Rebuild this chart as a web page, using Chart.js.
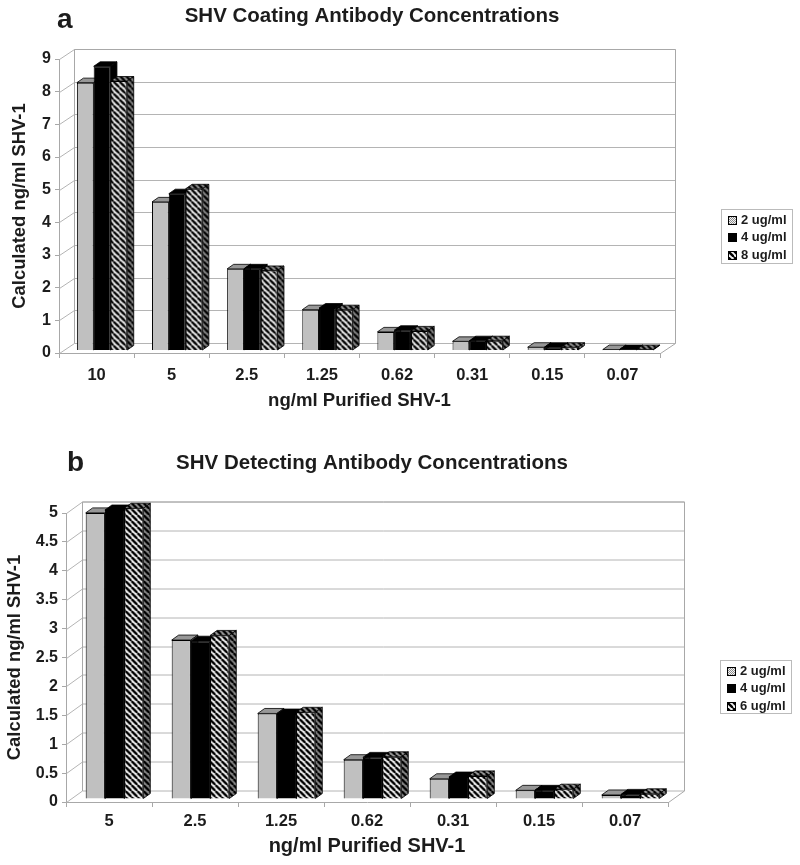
<!DOCTYPE html>
<html>
<head>
<meta charset="utf-8">
<title>SHV Antibody Concentrations</title>
<script src="https://cdn.jsdelivr.net/npm/chart.js@4/dist/chart.umd.js"></script>
<style>
  html, body { margin: 0; padding: 0; background: #fff; }
  body { position: relative; width: 800px; height: 865px; overflow: hidden; font-family: "Liberation Sans", Arial, sans-serif; color: #1c1c1c; }
  canvas { position: absolute; left: 0; top: 0; }
  .wrap { position: absolute; left: 0; width: 744px; }
  .panel { position: absolute; font-weight: bold; font-size: 28px; line-height: 30px; }
  .legend { position: absolute; border: 1px solid #bbb; box-sizing: border-box; width: 72px; padding: 0.5px 0 0 6px; font-weight: bold; font-size: 13px; line-height: 17.5px; }
  .legend div { white-space: nowrap; }
  .legend canvas { position: static; vertical-align: -1px; margin-right: 4px; }
</style>
</head>
<body>
<div class="wrap" style="top:0;height:430px"><canvas id="chartA"></canvas></div>
<div class="wrap" style="top:440px;height:425px"><canvas id="chartB"></canvas></div>
<div class="panel" style="left:57px;top:4px">a</div>
<div class="panel" style="left:67px;top:447px">b</div>
<div class="legend" id="legendA" style="left:721px;top:209px;height:55px"></div>
<div class="legend" id="legendB" style="left:720px;top:660px;height:54px"></div>
<script>
  const categoriesA = ['10', '5', '2.5', '1.25', '0.62', '0.31', '0.15', '0.07'];
  const seriesA = ['2 ug/ml', '4 ug/ml', '8 ug/ml'];
  const a2 = [8.2, 4.55, 2.5, 1.25, 0.57, 0.28, 0.1, 0.03];
  const a4 = [8.7, 4.8, 2.5, 1.3, 0.62, 0.3, 0.1, 0.03];
  const a8 = [8.25, 4.95, 2.45, 1.25, 0.6, 0.3, 0.1, 0.03];

  const categoriesB = ['5', '2.5', '1.25', '0.62', '0.31', '0.15', '0.07'];
  const seriesB = ['2 ug/ml', '4 ug/ml', '6 ug/ml'];
  const b2 = [4.95, 2.75, 1.48, 0.68, 0.35, 0.15, 0.07];
  const b4 = [5, 2.73, 1.47, 0.72, 0.38, 0.15, 0.08];
  const b6 = [5.03, 2.83, 1.5, 0.73, 0.4, 0.17, 0.09];

  const TEXT = '#1c1c1c';
  const WALL = '#a8a8a8';
  const GRID = '#b4b4b4';
  const FONT = '"Liberation Sans", Arial, sans-serif';

  function dotted(bg, fg) {
    const c = document.createElement('canvas');
    c.width = c.height = 2;
    const x = c.getContext('2d');
    x.fillStyle = bg; x.fillRect(0, 0, 2, 2);
    x.fillStyle = fg; x.fillRect(0, 0, 1, 1); x.fillRect(1, 1, 1, 1);
    return c;
  }

  function stripes(bg, fg) {
    const c = document.createElement('canvas');
    c.width = c.height = 6;
    const x = c.getContext('2d');
    x.fillStyle = bg; x.fillRect(0, 0, 6, 6);
    x.strokeStyle = fg; x.lineWidth = 2.4;
    [-6, 0, 6].forEach((o) => {
      x.beginPath(); x.moveTo(o, 0); x.lineTo(o + 6, 6); x.stroke();
    });
    return c;
  }

  const ctx0 = document.createElement('canvas').getContext('2d');
  const faces = [
    { front: ctx0.createPattern(dotted('#f4f4f4', '#8c8c8c'), 'repeat'), side: ctx0.createPattern(dotted('#9a9a9a', '#555'), 'repeat'), top: ctx0.createPattern(dotted('#b8b8b8', '#777'), 'repeat') },
    { front: '#000', side: '#000', top: '#000' },
    { front: ctx0.createPattern(stripes('#f2f2f2', '#000'), 'repeat'), side: ctx0.createPattern(stripes('#888', '#000'), 'repeat'), top: ctx0.createPattern(stripes('#999', '#000'), 'repeat') },
  ];

  // walls, floor and the 3D faces of the bars; bars are shifted back into the box
  const box3d = {
    id: 'box3d',
    afterLayout(chart) {
      // centre the title on the whole canvas, not on what the padding leaves
      chart.titleBlock.left = 0;
      chart.titleBlock.right = chart.width;
    },
    beforeDatasetsDraw(chart, args, opts) {
      const { ctx, chartArea: area, scales: { y } } = chart;
      const { dx, dy } = opts;
      ctx.save();
      ctx.lineWidth = 1;
      ctx.strokeStyle = GRID;
      y.ticks.forEach((t) => {
        const py = Math.round(y.getPixelForValue(t.value)) + 0.5;
        ctx.beginPath();
        ctx.moveTo(area.left + 0.5, py);
        ctx.lineTo(area.left + dx + 0.5, py - dy);
        ctx.lineTo(area.right + dx + 0.5, py - dy);
        ctx.stroke();
      });
      ctx.strokeStyle = WALL;
      ctx.beginPath();
      ctx.moveTo(area.left + dx + 0.5, area.bottom - dy + 0.5);
      ctx.lineTo(area.left + dx + 0.5, area.top - dy + 0.5);
      ctx.lineTo(area.right + dx + 0.5, area.top - dy + 0.5);
      ctx.lineTo(area.right + dx + 0.5, area.bottom - dy + 0.5);
      ctx.lineTo(area.right + 0.5, area.bottom + 0.5);
      ctx.stroke();
      ctx.restore();
    },
    // the library paints the last dataset first; here the left bar must go first
    beforeDatasetDraw() {
      return false;
    },
    afterDatasetsDraw(chart, args, opts) {
      const { ctx } = chart;
      const { depthX: w, depthY: h } = opts;
      ctx.save();
      ctx.translate(opts.barDx, -opts.barDy);
      chart.data.datasets.forEach((ds, i) => {
        const meta = chart.getDatasetMeta(i);
        const face = faces[i];
        meta.data.forEach((bar) => bar.draw(ctx));
        ctx.save();
        ctx.strokeStyle = '#000';
        ctx.lineWidth = 0.8;
        meta.data.forEach((bar) => {
          const l = bar.x - bar.width / 2;
          const r = bar.x + bar.width / 2;
          const t = bar.y;
          const b = bar.base;
          ctx.fillStyle = face.top;
          ctx.beginPath();
          ctx.moveTo(l, t); ctx.lineTo(l + w, t - h); ctx.lineTo(r + w, t - h); ctx.lineTo(r, t);
          ctx.closePath(); ctx.fill(); ctx.stroke();
          ctx.fillStyle = face.side;
          ctx.beginPath();
          ctx.moveTo(r, t); ctx.lineTo(r + w, t - h); ctx.lineTo(r + w, b - h); ctx.lineTo(r, b);
          ctx.closePath(); ctx.fill(); ctx.stroke();
        });
        ctx.restore();
      });
      ctx.restore();
    },
  };

  function makeChart(id, cfg) {
    const datasets = cfg.series.map((label, i) => ({
      label,
      data: cfg.values[i],
      backgroundColor: faces[i].front,
      borderColor: '#000',
      borderWidth: 1,
      barPercentage: 1,
      categoryPercentage: 0.67,
      clip: false,
    }));
    return new Chart(document.getElementById(id), {
      type: 'bar',
      data: { labels: cfg.categories, datasets },
      plugins: [box3d],
      options: {
        responsive: true,
        maintainAspectRatio: false,
        animation: false,
        events: [],
        layout: { padding: { left: 0, top: 0, right: cfg.rightPad, bottom: 0 } },
        plugins: {
          legend: { display: false },
          tooltip: { enabled: false },
          title: {
            display: true,
            text: cfg.title,
            color: TEXT,
            font: { family: FONT, size: 20.5, weight: 'bold', lineHeight: 1.2 },
            padding: cfg.titlePad,
          },
          box3d: cfg.box,
        },
        scales: {
          x: {
            grid: { drawOnChartArea: false, color: WALL, tickLength: 5 },
            border: { color: WALL },
            ticks: { color: TEXT, font: { family: FONT, size: 16.5, weight: 'bold' }, padding: cfg.xTickPad, maxRotation: 0, autoSkip: false },
            title: { display: true, text: cfg.xTitle, color: TEXT, font: { family: FONT, size: cfg.xTitleSize, weight: 'bold' }, padding: { top: 0, bottom: cfg.xTitleBottom } },
            afterFit(scale) { scale.height = cfg.xHeight; },
          },
          y: {
            min: 0,
            max: cfg.yMax,
            grid: { drawOnChartArea: false, color: WALL, tickLength: 4 },
            border: { color: WALL },
            ticks: { stepSize: cfg.yStep, color: TEXT, font: { family: FONT, size: 16, weight: 'bold' }, padding: 4, callback: (v) => String(v) },
            title: { display: true, text: cfg.yTitle, color: TEXT, font: { family: FONT, size: 18.4, weight: 'bold' }, padding: { top: cfg.yTitleLeft, bottom: 0 } },
            afterFit(scale) { scale.width = cfg.left; },
          },
        },
      },
    });
  }

  function makeLegend(id, series) {
    const el = document.getElementById(id);
    series.forEach((name, i) => {
      const row = document.createElement('div');
      const sw = document.createElement('canvas');
      sw.width = sw.height = 9;
      const x = sw.getContext('2d');
      x.fillStyle = faces[i].front; x.fillRect(0, 0, 9, 9);
      x.strokeStyle = '#000'; x.strokeRect(0.5, 0.5, 8, 8);
      row.appendChild(sw);
      row.appendChild(document.createTextNode(name));
      el.appendChild(row);
    });
  }

  makeChart('chartA', {
    categories: categoriesA, series: seriesA, values: [a2, a4, a8],
    title: 'SHV Coating Antibody Concentrations',
    xTitle: 'ng/ml Purified SHV-1', yTitle: 'Calculated ng/ml SHV-1',
    yMax: 9, yStep: 1, left: 59, rightPad: 84, xHeight: 77,
    titlePad: { top: 4, bottom: 30.4 }, xTickPad: 8, xTitleSize: 18.6, xTitleBottom: 18, yTitleLeft: 9,
    box: { dx: 15, dy: 10, barDx: 5.5, barDy: 2.5, depthX: 6.5, depthY: 4.5 },
  });
  makeChart('chartB', {
    categories: categoriesB, series: seriesB, values: [b2, b4, b6],
    title: 'SHV Detecting Antibody Concentrations',
    xTitle: 'ng/ml Purified SHV-1', yTitle: 'Calculated ng/ml SHV-1',
    yMax: 5, yStep: 0.5, left: 66, rightPad: 76, xHeight: 63,
    titlePad: { top: 11, bottom: 37.4 }, xTickPad: 5, xTitleSize: 20, xTitleBottom: 7, yTitleLeft: 3.5,
    box: { dx: 16, dy: 11.5, barDx: 5.5, barDy: 3, depthX: 7, depthY: 5 },
  });
  makeLegend('legendA', seriesA);
  makeLegend('legendB', seriesB);
</script>
</body>
</html>
